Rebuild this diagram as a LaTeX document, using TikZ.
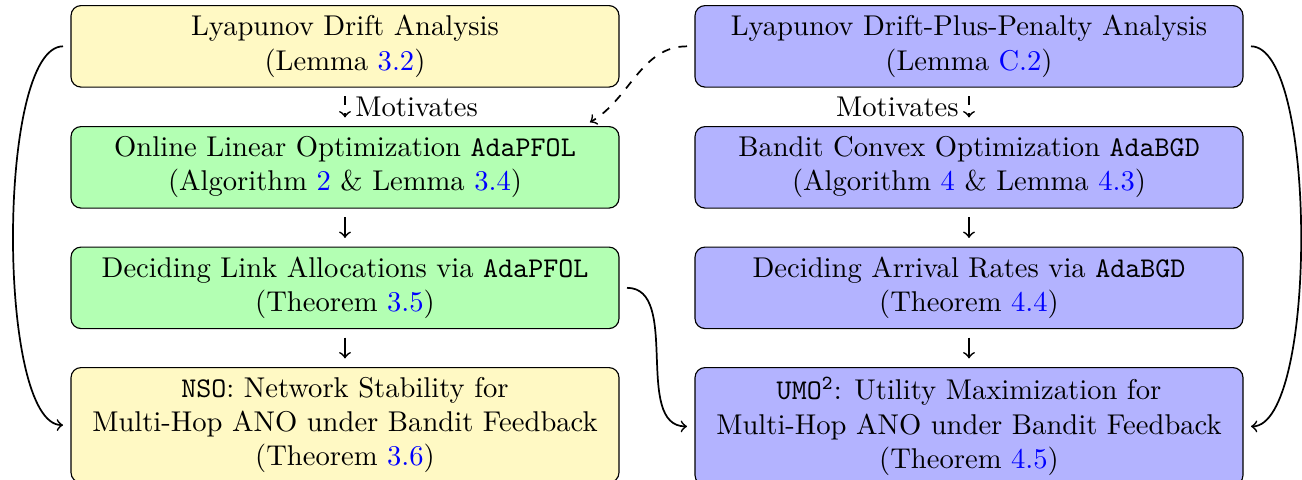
\documentclass[tikz,border=0pt]{standalone}
\usetikzlibrary{calc}
\definecolor{boxyellow}{RGB}{255,249,196}
\definecolor{boxgreen}{RGB}{179,255,179}
\definecolor{boxblue}{RGB}{179,179,255}
\newcommand{\lnk}[1]{\textcolor{blue}{#1}}
\begin{document}
\begin{tikzpicture}[x=0.34965pt,y=-0.34965pt,
  box/.style={draw, rounded corners=3.5pt, minimum width=191.6pt, minimum height=28.5pt,
    align=center, anchor=north, inner sep=3.33pt},
  ylw/.style={box, fill=boxyellow},
  grn/.style={box, fill=boxgreen},
  blu/.style={box, fill=boxblue},
  link/.style={->, semithick, shorten <=2.6pt, shorten >=2.6pt},
  shortarrow/.style={->, semithick, shorten <=3pt, shorten >=3pt}]
\useasboundingbox (0,0) rectangle (1302,479);

\node[ylw] (A1) at (345,5) {Lyapunov Drift Analysis\\(Lemma \lnk{3.2})};
\node[grn] (A2) at (345,126) {Online Linear Optimization \texttt{AdaPFOL}\\(Algorithm \lnk{2} \& Lemma \lnk{3.4})};
\node[grn] (A3) at (345,246.5) {Deciding Link Allocations via \texttt{AdaPFOL}\\(Theorem \lnk{3.5})};
\node[ylw] (A4) at (345,367) {\texttt{NSO}: Network Stability for\\Multi-Hop ANO under Bandit Feedback\\(Theorem \lnk{3.6})};

\node[blu] (B1) at (969,5) {Lyapunov Drift-Plus-Penalty Analysis\\(Lemma \lnk{C.2})};
\node[blu] (B2) at (969,126) {Bandit Convex Optimization \texttt{AdaBGD}\\(Algorithm \lnk{4} \& Lemma \lnk{4.3})};
\node[blu] (B3) at (969,246.5) {Deciding Arrival Rates via \texttt{AdaBGD}\\(Theorem \lnk{4.4})};
\node[blu] (B4) at (969,367) {\texttt{UMO\textsuperscript{2}}: Utility Maximization for\\Multi-Hop ANO under Bandit Feedback\\(Theorem \lnk{4.5})};

\draw[shortarrow, dashed] (A1) -- node[right] (mL) {Motivates} (A2);
\draw[shortarrow] (A2) -- (A3);
\draw[shortarrow] (A3) -- (A4);
\draw[shortarrow, dashed] (B1) -- node[left] (mR) {Motivates} (B2);
\draw[shortarrow] (B2) -- (B3);
\draw[shortarrow] (B3) -- (B4);

\draw[link] (A1.west) to[out=180, in=180, looseness=0.5] (A4.west);
\draw[link] (B1.east) to[out=0, in=0, looseness=0.5] (B4.east);
\draw[link] (A3.east) to[out=0, in=180] (B4.west);
\draw[link, dashed] (B1.west) to[out=180, in=30] ($(A2.north east)+(-12.6pt,0)$);
\end{tikzpicture}
\end{document}
